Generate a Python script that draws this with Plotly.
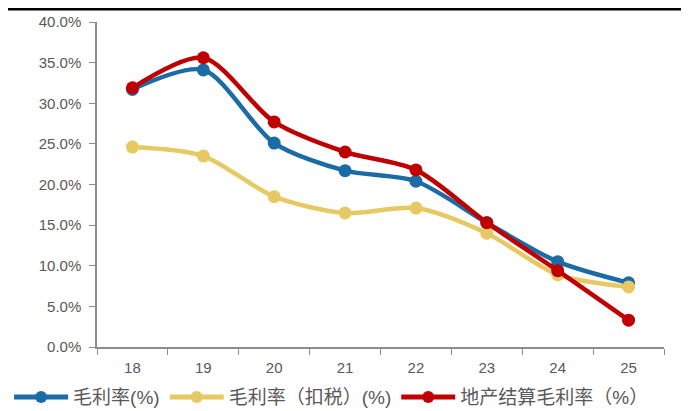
import plotly.graph_objects as go

categories = ["18", "19", "20", "21", "22", "23", "24", "25"]
gross_margin = [31.7, 34.1, 25.1, 21.7, 20.4, 15.3, 10.5, 7.9]
gross_margin_tax = [24.6, 23.5, 18.5, 16.5, 17.1, 14.0, 8.9, 7.4]
re_margin = [31.9, 35.6, 27.7, 24.0, 21.8, 15.3, 9.4, 3.3]

names = ["毛利率(%)", "毛利率（扣税）(%)", "地产结算毛利率（%）"]
colors = ["#1B6BA6", "#E6C963", "#C00000"]

fig = go.Figure()
for name, vals, col in zip(names, [gross_margin, gross_margin_tax, re_margin], colors):
    fig.add_trace(go.Scatter(
        x=categories, y=[v / 100 for v in vals], name=name,
        mode="lines+markers",
        line=dict(color=col, width=4.5, shape="spline", smoothing=0.8),
        marker=dict(color=col, size=13),
    ))

W, H = 681, 403
L, R, T, B = 89, 25, 14, 64
ph = H - T - B
font_family = "Liberation Sans, Arial, Noto Sans CJK SC, sans-serif"
fig.update_layout(
    width=W, height=H,
    margin=dict(l=L, r=R, t=T, b=B, autoexpand=False),
    paper_bgcolor="white", plot_bgcolor="white",
    font=dict(family=font_family, size=15, color="#595959"),
    showlegend=True,
    legend=dict(orientation="h", x=-0.155, xanchor="left", y=-0.154, yanchor="middle",
                font=dict(size=19, color="#595959", family="Liberation Sans, Noto Sans CJK SC, sans-serif"),
                itemwidth=54, itemsizing="constant", tracegroupgap=0, bgcolor="rgba(0,0,0,0)"),
    xaxis=dict(type="category", range=[-0.5, 7.5], showgrid=False, showline=True,
               linecolor="#8C8C8C", linewidth=1.5, ticks="outside", tickson="boundaries",
               ticklen=6, tickcolor="#8C8C8C", tickfont=dict(size=15, color="#595959"),
               ticklabelstandoff=6, zeroline=False),
    yaxis=dict(range=[0, 0.4], dtick=0.05, tickformat=".1%", showgrid=False, showline=True,
               linecolor="#8C8C8C", linewidth=1.5, ticks="outside", ticklen=6,
               tickcolor="#8C8C8C", tickfont=dict(size=15, color="#595959"),
               ticklabelstandoff=5, zeroline=False),
    shapes=[dict(type="line", xref="paper", yref="paper", x0=-0.2, x1=1.1,
                 y0=(H - B - 1) / ph, y1=(H - B - 1) / ph,
                 line=dict(color="black", width=3))],
)
fig.write_html("out.html")
